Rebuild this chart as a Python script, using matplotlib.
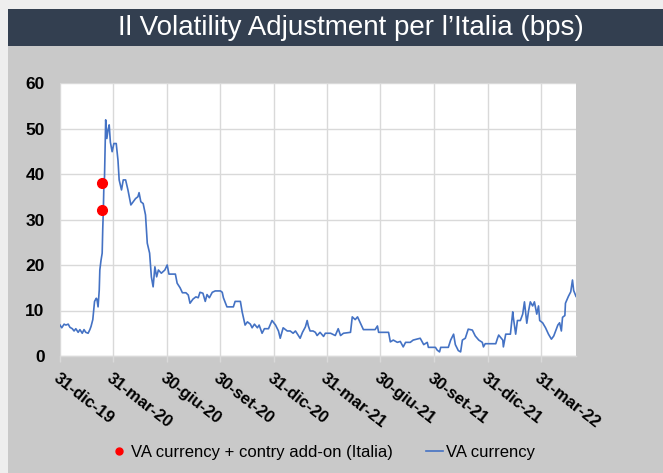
import numpy as np
import pandas as pd
import matplotlib
matplotlib.use("Agg")
import matplotlib.pyplot as plt
from matplotlib import font_manager as fm
from matplotlib.patches import Rectangle
from matplotlib.lines import Line2D

title = "Il Volatility Adjustment per l\u2019Italia (bps)"
base_date = "2019-12-31"

# days since 31-dic-19 and VA currency values (bps)
va_days = [0, 3, 7, 10, 14, 17, 21, 24, 27, 31, 34, 38, 41, 44, 48, 51, 53, 56, 59, 62,
           63, 65, 67, 68, 70, 72, 73, 74, 75, 76, 78, 80, 82, 84, 86, 89, 92, 96, 99, 101,
           105, 108, 112, 116, 121, 125, 129, 133, 135, 138, 142, 146, 149, 153, 156, 159, 162, 165, 168, 173,
           179, 183, 186, 197, 200, 205, 209, 215, 219, 222, 227, 232, 236, 239, 244, 248, 251, 255, 260, 265,
           274, 277, 279, 285, 296, 299, 308, 311, 316, 320, 325, 328, 332, 337, 340, 345, 349, 356, 362, 368,
           373, 376, 381, 388, 393, 398, 402, 407, 410, 414, 419, 422, 424, 427, 432, 436, 439, 444, 450, 453,
           462, 470, 475, 479, 484, 496, 499, 504, 508, 513, 518, 530, 538, 542, 544, 561, 564, 569, 576, 581,
           586, 590, 598, 603, 615, 621, 627, 629, 641, 644, 648, 650, 663, 667, 672, 675, 680, 684, 687, 692,
           697, 704, 709, 715, 721, 723, 726, 744, 747, 749, 756, 757, 761, 769, 773, 774, 778, 781, 786, 790,
           793, 797, 800, 803, 807, 810, 814, 817, 819, 824, 829, 834, 839, 843, 850, 853, 856, 858, 862, 863,
           868, 872, 875, 877, 881]
va_values = [6.8, 6.2, 7.0, 6.8, 7.0, 6.3, 6.0, 5.5, 6.0, 5.2, 5.8, 5.0, 5.8, 5.2, 5.0, 5.8, 6.5, 8.0, 12.0, 12.7,
             12.5, 10.8, 14.5, 18.9, 21.0, 22.6, 28.0, 32.0, 38.0, 39.4, 51.9, 47.8, 49.7, 50.8, 47.0, 44.9, 46.7, 46.7, 43.0, 38.7,
             36.5, 38.7, 38.7, 36.5, 33.2, 33.9, 34.6, 35.0, 35.9, 33.9, 33.5, 31.0, 24.8, 22.6, 17.4, 15.2, 19.6, 17.4, 18.9, 18.2,
             18.9, 20.0, 18.0, 18.0, 16.0, 15.0, 13.9, 13.9, 13.4, 11.6, 12.5, 13.0, 12.8, 14.0, 13.8, 12.0, 13.5, 12.8, 14.0, 14.3,
             14.3, 14.0, 12.8, 10.8, 10.8, 12.0, 12.0, 9.7, 6.8, 7.5, 7.0, 6.2, 7.0, 6.2, 6.8, 5.0, 6.0, 6.0, 7.8, 6.8,
             5.5, 3.9, 6.2, 5.5, 5.5, 5.0, 5.5, 4.5, 3.9, 5.2, 6.4, 7.8, 6.6, 5.5, 5.5, 5.2, 4.5, 5.2, 4.3, 5.0,
             5.0, 4.5, 6.0, 4.5, 5.0, 5.2, 8.6, 8.0, 8.6, 7.2, 5.8, 5.8, 5.8, 6.6, 5.2, 5.2, 3.1, 3.5, 3.0, 3.2,
             2.0, 3.0, 3.0, 3.5, 3.9, 2.5, 3.0, 1.9, 1.9, 1.3, 0.9, 1.9, 1.9, 3.5, 4.8, 2.5, 1.2, 0.9, 3.5, 3.9,
             5.9, 5.7, 4.4, 3.5, 3.0, 2.0, 2.7, 2.7, 3.9, 4.6, 3.5, 2.0, 4.8, 4.8, 9.7, 8.5, 4.8, 7.8, 7.8, 9.2,
             11.9, 7.2, 9.9, 11.9, 11.0, 11.9, 9.2, 11.0, 7.8, 7.3, 6.2, 4.8, 3.7, 4.4, 6.8, 7.3, 5.5, 8.5, 8.9, 11.6,
             13.1, 14.1, 16.7, 14.4, 13.1]

# VA currency + country add-on (Italia)
addon_dates = ["2020-03-12", "2020-03-12"]
addon_values = [32.0, 38.0]

tick_dates = ["2019-12-31", "2020-03-31", "2020-06-30", "2020-09-30", "2020-12-31",
              "2021-03-31", "2021-06-30", "2021-09-30", "2021-12-31", "2022-03-31"]
tick_labels = ["31-dic-19", "31-mar-20", "30-giu-20", "30-set-20", "31-dic-20",
               "31-mar-21", "30-giu-21", "30-set-21", "31-dic-21", "31-mar-22"]
y_ticks = [0, 10, 20, 30, 40, 50, 60]

legend_labels = ["VA currency + contry add-on (Italia)", "VA currency"]

# ---------------------------------------------------------------
va_x = pd.Timestamp(base_date) + pd.to_timedelta(va_days, unit="D")
addon_x = pd.to_datetime(addon_dates)
ticks_x = pd.to_datetime(tick_dates)

names = {f.name for f in fm.fontManager.ttflist}
if "Liberation Sans Narrow" in names:
    title_font, title_size = "Liberation Sans Narrow", 23
else:
    title_font, title_size = "Liberation Sans", 20

W, H = 663, 473
fig = plt.figure(figsize=(W / 100, H / 100), dpi=100)
fig.patch.set_facecolor("#eeeeee")

# grey panel and dark title bar
fig.patches.append(Rectangle((8 / W, 0), 1 - 8 / W, 1 - 46 / H, transform=fig.transFigure,
                             facecolor="#c9c9c9", edgecolor="none", zorder=-5))
fig.patches.append(Rectangle((8 / W, 1 - 46 / H), 1 - 8 / W, 37 / H, transform=fig.transFigure,
                             facecolor="#333f50", edgecolor="none", zorder=-5))
fig.text(351 / W, 1 - 28 / H, title, color="white", fontsize=title_size,
         family=title_font, ha="center", va="center")

ax = fig.add_axes([60 / W, 1 - 356 / H, 516 / W, 273 / H])
ax.set_facecolor("white")

ax.plot(va_x, va_values, color="#4472c4", lw=1.2, zorder=3)
ax.plot(addon_x, addon_values, "o", color="#ff0000", ms=7, zorder=4, lw=0)

ax.set_xlim(pd.Timestamp(base_date), pd.Timestamp(base_date) + pd.Timedelta(days=881))
ax.set_ylim(0, 60)
ax.set_yticks(y_ticks)
ax.set_xticks(ticks_x)
ax.set_xticklabels(tick_labels)

ax.grid(True, color="#d9d9d9", lw=1.0, zorder=0)
for s in ["top", "right", "left"]:
    ax.spines[s].set_visible(False)
ax.spines["bottom"].set_color("#d9d9d9")
ax.spines["bottom"].set_linewidth(1.0)

ax.tick_params(axis="y", length=0, pad=11)
ax.tick_params(axis="x", length=4.5, width=1.0, color="#d9d9d9", pad=6)
for lab in ax.get_yticklabels():
    lab.set_fontfamily("Liberation Sans")
    lab.set_fontweight("bold")
    lab.set_fontsize(12.5)
for lab in ax.get_xticklabels():
    lab.set_fontfamily("Liberation Sans")
    lab.set_fontweight("bold")
    lab.set_fontsize(12)
    lab.set_rotation(-38)
    lab.set_rotation_mode("anchor")
    lab.set_ha("left")
    lab.set_va("top")

handles = [Line2D([], [], marker="o", color="#ff0000", ls="none", ms=5),
           Line2D([], [], color="#4472c4", lw=1.2)]
fig.legend(handles, legend_labels, loc="center", bbox_to_anchor=(323 / W, 1 - 452 / H),
           ncol=2, frameon=False, prop={"family": "Liberation Sans", "size": 12},
           handlelength=1.0, handletextpad=0.2, columnspacing=2.0)

fig.savefig("out.png", dpi=100, facecolor=fig.get_facecolor())
